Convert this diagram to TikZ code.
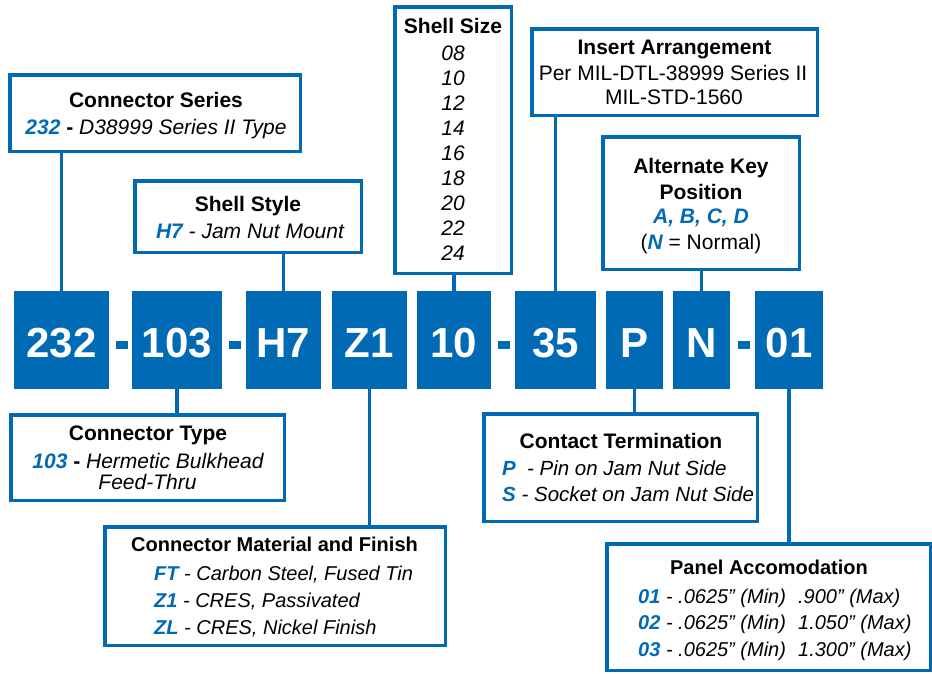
\documentclass[tikz,border=0pt]{standalone}
\usepackage{fontspec}
\setmainfont{Liberation Sans}
\definecolor{blu}{HTML}{006AB5}
\tikzset{
  frame/.style={draw=blu, line width=3.5pt, fill=white, rectangle, inner sep=0pt},
  codebox/.style={fill=blu, draw=none, rectangle, inner sep=0pt, outer sep=0pt,
     text=white, font=\fontsize{42}{42}\selectfont\bfseries, text height=34pt, text depth=0pt},
  dashbox/.style={fill=blu, draw=none, rectangle, inner sep=0pt, outer sep=0pt, minimum width=12pt, minimum height=8pt},
  link/.style={draw=blu, line width=3.5pt},
  ttl/.style={anchor=base, inner sep=0pt, font=\fontsize{21}{25}\selectfont\bfseries},
  ttls/.style={anchor=base, inner sep=0pt, font=\fontsize{20}{25}\selectfont\bfseries},
  txt/.style={anchor=base, inner sep=0pt, font=\fontsize{21}{25}\selectfont},
  txts/.style={anchor=base west, inner sep=0pt, font=\fontsize{20}{25}\selectfont},
  txtl/.style={anchor=base west, inner sep=0pt, font=\fontsize{20.5}{25}\selectfont},
}
\newcommand{\bc}[1]{{\color{blu}\bfseries\itshape #1}}
\newcommand{\inch}{\char34\relax}
\begin{document}
\begin{tikzpicture}[x=1pt,y=-1pt]
\useasboundingbox (0,0) rectangle (932,673);
% upper boxes
\node[frame, minimum width=290.5pt, minimum height=76.5pt] (series) at (155,113) {};
\node[frame, minimum width=226.5pt, minimum height=71.5pt] (style) at (248,216.5) {};
\node[frame, minimum width=116.5pt, minimum height=266.5pt] (size) at (453,140) {};
\node[frame, minimum width=285.5pt, minimum height=86.5pt] (insert) at (674.5,72) {};
\node[frame, minimum width=196.5pt, minimum height=132.5pt] (altkey) at (701,203) {};
% lower boxes
\node[frame, minimum width=273.5pt, minimum height=85.5pt] (ctype) at (147.5,457.5) {};
\node[frame, minimum width=340.5pt, minimum height=118.5pt] (material) at (275,586) {};
\node[frame, minimum width=273.5pt, minimum height=107.5pt] (contact) at (620.5,467.5) {};
\node[frame, minimum width=323.5pt, minimum height=126.5pt] (panel) at (768.5,607) {};
% code boxes
\node[codebox, minimum width=95pt, minimum height=98pt] (c232) at (61.5,340) {232};
\node[dashbox] (d1) at (121.5,345) {};
\node[codebox, minimum width=90pt, minimum height=98pt] (c103) at (177,340) {103};
\node[dashbox] (d2) at (235,345) {};
\node[codebox, minimum width=75pt, minimum height=98pt] (cH7) at (283.5,340) {H7};
\node[codebox, minimum width=75pt, minimum height=98pt] (cZ1) at (369.5,340) {Z1};
\node[codebox, minimum width=74pt, minimum height=98pt] (c10) at (454,340) {10};
\node[dashbox] (d3) at (504,345) {};
\node[codebox, minimum width=81pt, minimum height=98pt] (c35) at (555.5,340) {35};
\node[codebox, minimum width=57pt, minimum height=98pt] (cP) at (634.5,340) {P};
\node[codebox, minimum width=57pt, minimum height=98pt] (cN) at (701.5,340) {N};
\node[dashbox] (d4) at (743.5,345) {};
\node[codebox, minimum width=68pt, minimum height=98pt] (c01) at (789,340) {01};
% connectors
\draw[link] (c232.north) -- (c232.north |- series.south);
\draw[link] (cH7.north) -- (cH7.north |- style.south);
\draw[link] (c10.north) -- (c10.north |- size.south);
\draw[link] (c35.north) -- (c35.north |- insert.south);
\draw[link] (cN.north) -- (cN.north |- altkey.south);
\draw[link] (c103.south) -- (c103.south |- ctype.north);
\draw[link] (cZ1.south) -- (cZ1.south |- material.north);
\draw[link] (cP.south) -- (cP.south |- contact.north);
\draw[link] (c01.south) -- (c01.south |- panel.north);
% texts: connector series
\node[ttl] (t1a) at (156,107) {Connector Series};
\node[txt] (t1b) at (156,134) {\bc{232} {\bfseries -} \itshape D38999 Series II Type};
% shell style
\node[ttl] (t2a) at (248,211) {Shell Style};
\node[txt] (t2b) at (250,238) {\bc{H7} \itshape - Jam Nut Mount};
% shell size
\node[ttl] (t3a) at (453,33) {Shell Size};
\foreach \v [count=\i from 0] in {08,10,12,14,16,18,20,22,24}
  \node[txt] (t3s\i) at (453,60+25*\i) {\itshape \v};
% insert arrangement
\node[ttl] (t4a) at (674.5,54) {Insert Arrangement};
\node[txt] (t4b) at (673,80) {Per MIL-DTL-38999 Series II};
\node[txt] (t4c) at (674,104) {MIL-STD-1560};
% alternate key
\node[ttl] (t5a) at (701,173) {Alternate Key};
\node[ttl] (t5b) at (701,199) {Position};
\node[txt] (t5c) at (701,223) {\bc{A, B, C, D}};
\node[txt] (t5d) at (701,249) {(\bc{N} = Normal)};
% connector type
\node[ttl] (t6a) at (148,440) {Connector Type};
\node[txt] (t6b) at (148,468) {\bc{103} {\bfseries -} \itshape Hermetic Bulkhead};
\node[txt] (t6c) at (147.5,489) {\itshape Feed-Thru};
% material
\node[ttls] (t7a) at (274.5,551) {Connector Material and Finish};
\node[txts] (t7b) at (154,580) {\bc{FT} \itshape - Carbon Steel, Fused Tin};
\node[txts] (t7c) at (154,607) {\bc{Z1} \itshape - CRES, Passivated};
\node[txts] (t7d) at (154,634) {\bc{ZL} \itshape - CRES, Nickel Finish};
% contact termination
\node[ttl] (t8a) at (621,448) {Contact Termination};
\node[txtl] (t8b) at (502,475) {\bc{P}\hspace{0.55em}\itshape - Pin on Jam Nut Side};
\node[txtl] (t8c) at (502,501) {\bc{S} \itshape - Socket on Jam Nut Side};
% panel accomodation
\node[ttls] (t9a) at (769,574) {Panel Accomodation};
\node[txts] (t9b) at (638,603) {\makebox[160pt][l]{\bc{01} \itshape - .0625\inch{} (Min)}\itshape .900\inch{} (Max)};
\node[txts] (t9c) at (638,629) {\makebox[160pt][l]{\bc{02} \itshape - .0625\inch{} (Min)}\itshape 1.050\inch{} (Max)};
\node[txts] (t9d) at (638,656) {\makebox[160pt][l]{\bc{03} \itshape - .0625\inch{} (Min)}\itshape 1.300\inch{} (Max)};
\end{tikzpicture}
\end{document}
